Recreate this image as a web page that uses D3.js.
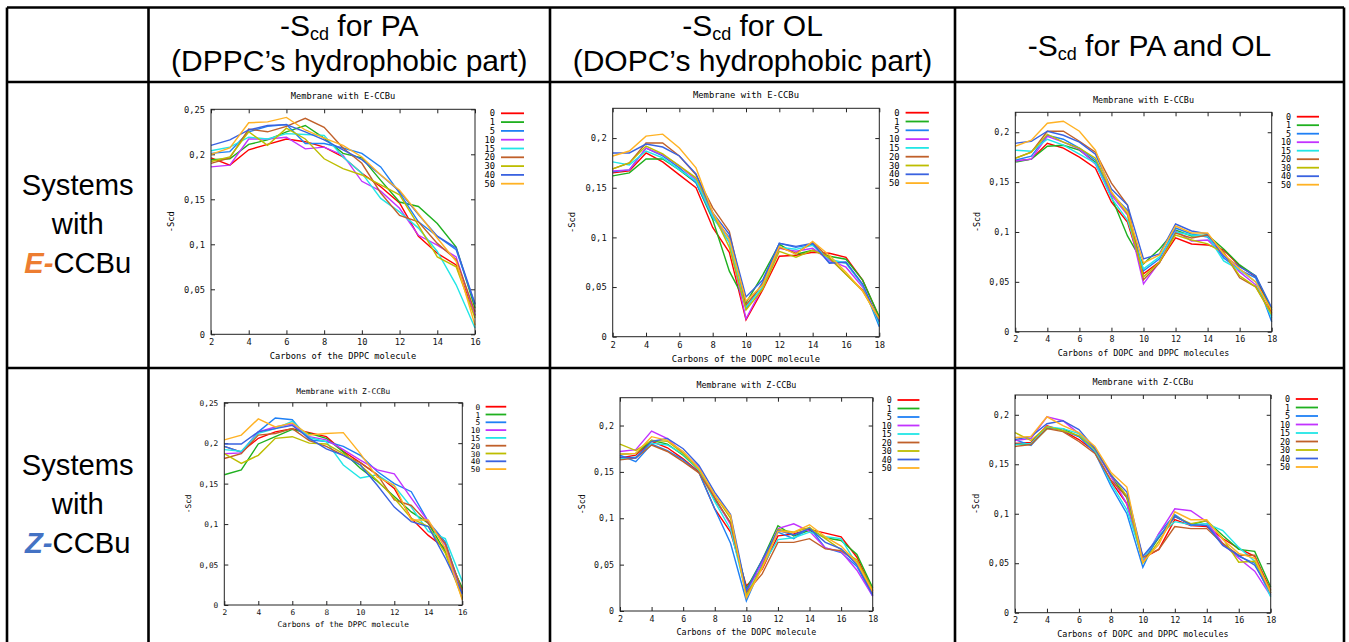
<!DOCTYPE html>
<html>
<head>
<meta charset="utf-8">
<script src="https://cdn.jsdelivr.net/npm/d3@7"></script>
<style>
  body { margin: 0; background: #fff; }
  svg { display: block; }
</style>
</head>
<body>
<script>
// carbon numbers on the x axis
var carbonsPA = [2, 3, 4, 5, 6, 7, 8, 9, 10, 11, 12, 13, 14, 15, 16];
var carbonsOL = [2, 3, 4, 5, 6, 7, 8, 9, 10, 11, 12, 13, 14, 15, 16, 17, 18];
var xTicksPA = [2, 4, 6, 8, 10, 12, 14, 16];
var xTicksOL = [2, 4, 6, 8, 10, 12, 14, 16, 18];
var yTicks25 = [0, 0.05, 0.1, 0.15, 0.2, 0.25];
var yTicks20 = [0, 0.05, 0.1, 0.15, 0.2];

// legend entries (CCBu amount)
var series = ['0', '1', '5', '10', '15', '20', '30', '40', '50'];
var colors = ['#ff0000', '#1fb01f', '#1f80f5', '#c233ff', '#22e6e6', '#c0602a', '#bdbd00', '#3a62e0', '#ffb224'];

// -Scd, E-CCBu, PA chains (DPPC)
var ePA = [
  [0.196, 0.188, 0.205, 0.211, 0.217, 0.214, 0.208, 0.197, 0.179, 0.164, 0.146, 0.109, 0.090, 0.077, 0.021],
  [0.194, 0.195, 0.211, 0.216, 0.225, 0.232, 0.218, 0.201, 0.196, 0.171, 0.147, 0.142, 0.123, 0.097, 0.029],
  [0.201, 0.203, 0.225, 0.231, 0.233, 0.212, 0.212, 0.207, 0.201, 0.186, 0.157, 0.125, 0.109, 0.094, 0.033],
  [0.186, 0.188, 0.217, 0.217, 0.219, 0.206, 0.208, 0.199, 0.170, 0.159, 0.140, 0.110, 0.099, 0.086, 0.021],
  [0.204, 0.208, 0.219, 0.217, 0.223, 0.222, 0.221, 0.197, 0.179, 0.151, 0.136, 0.118, 0.092, 0.055, 0.007],
  [0.190, 0.196, 0.228, 0.225, 0.231, 0.240, 0.230, 0.207, 0.190, 0.157, 0.132, 0.125, 0.101, 0.083, 0.025],
  [0.192, 0.197, 0.225, 0.210, 0.229, 0.217, 0.195, 0.184, 0.177, 0.166, 0.155, 0.121, 0.086, 0.075, 0.018],
  [0.210, 0.216, 0.227, 0.232, 0.233, 0.225, 0.216, 0.205, 0.194, 0.177, 0.159, 0.133, 0.109, 0.096, 0.034],
  [0.200, 0.207, 0.235, 0.236, 0.241, 0.227, 0.218, 0.210, 0.197, 0.177, 0.160, 0.134, 0.107, 0.081, 0.010]
];
// -Scd, E-CCBu, OL chains (DOPC)
var eOL = [
  [0.165, 0.167, 0.185, 0.176, 0.163, 0.150, 0.110, 0.085, 0.017, 0.047, 0.081, 0.082, 0.085, 0.084, 0.080, 0.057, 0.019],
  [0.162, 0.165, 0.179, 0.179, 0.168, 0.155, 0.118, 0.066, 0.034, 0.062, 0.093, 0.083, 0.087, 0.081, 0.078, 0.057, 0.020],
  [0.166, 0.168, 0.190, 0.182, 0.170, 0.155, 0.120, 0.100, 0.028, 0.055, 0.094, 0.090, 0.093, 0.075, 0.075, 0.052, 0.010],
  [0.167, 0.168, 0.190, 0.183, 0.172, 0.158, 0.123, 0.095, 0.018, 0.050, 0.089, 0.086, 0.089, 0.077, 0.070, 0.050, 0.015],
  [0.176, 0.173, 0.187, 0.180, 0.168, 0.157, 0.121, 0.095, 0.030, 0.050, 0.090, 0.088, 0.092, 0.078, 0.074, 0.052, 0.013],
  [0.169, 0.175, 0.195, 0.195, 0.182, 0.163, 0.130, 0.106, 0.032, 0.053, 0.090, 0.084, 0.095, 0.079, 0.063, 0.047, 0.018],
  [0.169, 0.175, 0.192, 0.184, 0.172, 0.160, 0.125, 0.090, 0.027, 0.048, 0.086, 0.080, 0.087, 0.080, 0.063, 0.046, 0.017],
  [0.185, 0.185, 0.194, 0.191, 0.182, 0.164, 0.125, 0.103, 0.040, 0.057, 0.094, 0.091, 0.094, 0.074, 0.075, 0.053, 0.015],
  [0.182, 0.187, 0.202, 0.204, 0.190, 0.170, 0.125, 0.098, 0.036, 0.052, 0.091, 0.083, 0.096, 0.082, 0.065, 0.046, 0.018]
];
// -Scd, E-CCBu, PA and OL together
var eAll = [
  [0.171, 0.173, 0.189, 0.184, 0.175, 0.164, 0.130, 0.110, 0.058, 0.070, 0.094, 0.088, 0.087, 0.082, 0.066, 0.055, 0.019],
  [0.170, 0.173, 0.186, 0.187, 0.182, 0.170, 0.135, 0.096, 0.068, 0.083, 0.102, 0.096, 0.097, 0.083, 0.067, 0.056, 0.022],
  [0.172, 0.176, 0.197, 0.193, 0.184, 0.172, 0.138, 0.122, 0.061, 0.073, 0.104, 0.098, 0.095, 0.074, 0.062, 0.054, 0.010],
  [0.171, 0.173, 0.196, 0.190, 0.183, 0.168, 0.137, 0.117, 0.048, 0.070, 0.101, 0.091, 0.092, 0.077, 0.060, 0.047, 0.016],
  [0.182, 0.181, 0.193, 0.187, 0.178, 0.169, 0.134, 0.112, 0.063, 0.075, 0.100, 0.097, 0.096, 0.071, 0.062, 0.050, 0.014],
  [0.174, 0.180, 0.201, 0.201, 0.191, 0.180, 0.149, 0.127, 0.052, 0.069, 0.099, 0.094, 0.097, 0.080, 0.054, 0.045, 0.018],
  [0.174, 0.180, 0.198, 0.190, 0.184, 0.174, 0.140, 0.118, 0.055, 0.070, 0.097, 0.092, 0.088, 0.079, 0.056, 0.045, 0.017],
  [0.189, 0.191, 0.201, 0.197, 0.190, 0.178, 0.143, 0.127, 0.073, 0.078, 0.108, 0.101, 0.098, 0.076, 0.065, 0.056, 0.024],
  [0.186, 0.192, 0.209, 0.211, 0.201, 0.182, 0.140, 0.120, 0.069, 0.077, 0.106, 0.099, 0.099, 0.078, 0.063, 0.050, 0.021]
];
// -Scd, Z-CCBu, PA chains (DPPC)
var zPA = [
  [0.196, 0.189, 0.206, 0.214, 0.218, 0.213, 0.208, 0.190, 0.176, 0.161, 0.144, 0.107, 0.086, 0.070, 0.019],
  [0.161, 0.167, 0.199, 0.208, 0.217, 0.212, 0.206, 0.189, 0.169, 0.153, 0.134, 0.115, 0.101, 0.066, 0.021],
  [0.196, 0.189, 0.214, 0.231, 0.229, 0.204, 0.202, 0.196, 0.185, 0.165, 0.150, 0.140, 0.103, 0.078, 0.014],
  [0.187, 0.188, 0.214, 0.220, 0.224, 0.208, 0.204, 0.192, 0.179, 0.167, 0.162, 0.132, 0.103, 0.074, 0.008],
  [0.192, 0.190, 0.212, 0.218, 0.227, 0.207, 0.202, 0.173, 0.157, 0.161, 0.147, 0.121, 0.091, 0.082, 0.029],
  [0.181, 0.187, 0.210, 0.212, 0.218, 0.203, 0.196, 0.185, 0.176, 0.161, 0.130, 0.123, 0.101, 0.076, 0.016],
  [0.187, 0.175, 0.185, 0.206, 0.208, 0.200, 0.199, 0.187, 0.173, 0.154, 0.132, 0.107, 0.097, 0.064, 0.008],
  [0.199, 0.199, 0.214, 0.218, 0.222, 0.206, 0.193, 0.185, 0.173, 0.148, 0.121, 0.103, 0.097, 0.058, 0.014],
  [0.204, 0.210, 0.230, 0.220, 0.225, 0.210, 0.212, 0.213, 0.187, 0.158, 0.148, 0.105, 0.105, 0.070, 0.006]
];
// -Scd, Z-CCBu, OL chains (DOPC)
var zOL = [
  [0.165, 0.168, 0.183, 0.176, 0.164, 0.150, 0.110, 0.085, 0.027, 0.045, 0.081, 0.083, 0.088, 0.084, 0.080, 0.058, 0.022],
  [0.169, 0.170, 0.184, 0.180, 0.168, 0.152, 0.120, 0.095, 0.024, 0.055, 0.092, 0.081, 0.087, 0.079, 0.076, 0.061, 0.025],
  [0.168, 0.161, 0.180, 0.173, 0.163, 0.149, 0.110, 0.073, 0.011, 0.050, 0.085, 0.078, 0.090, 0.068, 0.063, 0.048, 0.016],
  [0.172, 0.174, 0.194, 0.186, 0.170, 0.155, 0.122, 0.093, 0.020, 0.052, 0.089, 0.094, 0.086, 0.068, 0.064, 0.044, 0.016],
  [0.164, 0.166, 0.181, 0.179, 0.169, 0.152, 0.118, 0.088, 0.018, 0.048, 0.077, 0.079, 0.085, 0.080, 0.078, 0.050, 0.018],
  [0.163, 0.165, 0.179, 0.172, 0.161, 0.149, 0.122, 0.095, 0.020, 0.040, 0.074, 0.074, 0.078, 0.067, 0.065, 0.053, 0.019],
  [0.180, 0.173, 0.184, 0.183, 0.170, 0.153, 0.125, 0.100, 0.016, 0.048, 0.088, 0.085, 0.090, 0.078, 0.066, 0.055, 0.022],
  [0.166, 0.165, 0.183, 0.186, 0.175, 0.157, 0.128, 0.104, 0.022, 0.055, 0.087, 0.082, 0.089, 0.074, 0.067, 0.050, 0.017],
  [0.169, 0.170, 0.188, 0.184, 0.172, 0.154, 0.125, 0.103, 0.014, 0.046, 0.086, 0.085, 0.093, 0.080, 0.070, 0.052, 0.021]
];
// -Scd, Z-CCBu, PA and OL together
var zAll = [
  [0.171, 0.172, 0.189, 0.184, 0.175, 0.163, 0.133, 0.110, 0.055, 0.064, 0.094, 0.088, 0.087, 0.075, 0.065, 0.057, 0.023],
  [0.170, 0.170, 0.186, 0.186, 0.178, 0.166, 0.138, 0.116, 0.052, 0.076, 0.098, 0.089, 0.093, 0.078, 0.064, 0.062, 0.026],
  [0.175, 0.169, 0.187, 0.184, 0.178, 0.162, 0.128, 0.100, 0.046, 0.080, 0.099, 0.088, 0.090, 0.069, 0.057, 0.050, 0.018],
  [0.174, 0.176, 0.198, 0.194, 0.181, 0.165, 0.138, 0.110, 0.052, 0.080, 0.105, 0.103, 0.092, 0.070, 0.055, 0.042, 0.017],
  [0.170, 0.171, 0.188, 0.186, 0.181, 0.164, 0.131, 0.104, 0.054, 0.078, 0.092, 0.089, 0.090, 0.083, 0.066, 0.052, 0.016],
  [0.168, 0.170, 0.186, 0.183, 0.173, 0.161, 0.134, 0.117, 0.056, 0.064, 0.087, 0.085, 0.085, 0.070, 0.058, 0.058, 0.020],
  [0.182, 0.174, 0.188, 0.184, 0.179, 0.165, 0.140, 0.118, 0.050, 0.072, 0.097, 0.090, 0.093, 0.075, 0.051, 0.052, 0.022],
  [0.175, 0.178, 0.191, 0.194, 0.185, 0.166, 0.139, 0.122, 0.057, 0.076, 0.097, 0.089, 0.088, 0.068, 0.058, 0.048, 0.020],
  [0.177, 0.178, 0.198, 0.189, 0.182, 0.168, 0.142, 0.127, 0.051, 0.069, 0.102, 0.094, 0.094, 0.074, 0.060, 0.055, 0.020]
];

var W = 1349, H = 642;
var svg = d3.select('body').append('svg').attr('width', W).attr('height', H);

// ---- table grid ----
var colX = [7, 148.5, 550, 955, 1344];
var rowY = [7.5, 82, 368, 650];
var grid = svg.append('g').attr('stroke', '#000').attr('stroke-width', 2.6);
colX.forEach(function(x) {
  grid.append('line').attr('x1', x).attr('x2', x).attr('y1', rowY[0]).attr('y2', rowY[3]);
});
rowY.forEach(function(y) {
  grid.append('line').attr('x1', colX[0]).attr('x2', colX[4]).attr('y1', y).attr('y2', y);
});

var bigFont = 'Liberation Sans, Arial, sans-serif';
var headSize = 30;

function scdLabel(g, x, y, rest) {
  var t = g.append('text').attr('x', x).attr('y', y).attr('text-anchor', 'middle')
    .attr('font-family', bigFont).attr('font-size', headSize).attr('fill', '#000');
  t.append('tspan').text('-S');
  t.append('tspan').attr('font-size', 18).attr('dy', 4).text('cd');
  t.append('tspan').attr('dy', -4).text(rest);
}
var head = svg.append('g');
scdLabel(head, (colX[1] + colX[2]) / 2, 36, ' for PA');
head.append('text').attr('x', (colX[1] + colX[2]) / 2).attr('y', 71).attr('text-anchor', 'middle')
  .attr('font-family', bigFont).attr('font-size', headSize).text('(DPPC\u2019s hydrophobic part)');
scdLabel(head, (colX[2] + colX[3]) / 2, 36, ' for OL');
head.append('text').attr('x', (colX[2] + colX[3]) / 2).attr('y', 71).attr('text-anchor', 'middle')
  .attr('font-family', bigFont).attr('font-size', headSize).text('(DOPC\u2019s hydrophobic part)');
scdLabel(head, (colX[3] + colX[4]) / 2, 56, ' for PA and OL');

function rowLabel(y0, iso, isoColor) {
  var cx = (colX[0] + colX[1]) / 2;
  var g = svg.append('g').attr('font-family', bigFont).attr('font-size', 29.2).attr('text-anchor', 'middle');
  g.append('text').attr('x', cx).attr('y', y0).text('Systems');
  g.append('text').attr('x', cx).attr('y', y0 + 39).text('with');
  var t = g.append('text').attr('x', cx).attr('y', y0 + 78);
  t.append('tspan').attr('fill', isoColor).attr('font-weight', 'bold').attr('font-style', 'italic').text(iso + '-');
  t.append('tspan').text('CCBu');
}
rowLabel(195, 'E', '#ed7d31');
rowLabel(475, 'Z', '#4472c4');

// ---- gnuplot-like panels ----
var fmt = function(d) { return d3.format('.2~f')(d).replace('.', ','); };

function panel(box, xs, rows, xmax, ymax, xt, yt, title, xlabel) {
  var fs = box.fs, k = fs / 8.7;
  var x = d3.scaleLinear().domain([2, xmax]).range([box.l, box.r]);
  var y = d3.scaleLinear().domain([0, ymax]).range([box.b, box.t]);
  var g = svg.append('g').attr('font-family', 'DejaVu Sans Mono, monospace').attr('font-size', fs);

  var axL = g.append('g').attr('transform', 'translate(' + box.l + ',0)')
    .call(d3.axisLeft(y).tickValues(yt).tickFormat(fmt).tickSize(-4).tickSizeOuter(0).tickPadding(6));
  var axR = g.append('g').attr('transform', 'translate(' + box.r + ',0)')
    .call(d3.axisRight(y).tickValues(yt).tickFormat('').tickSize(-4).tickSizeOuter(0));
  var axB = g.append('g').attr('transform', 'translate(0,' + box.b + ')')
    .call(d3.axisBottom(x).tickValues(xt).tickFormat(d3.format('d')).tickSize(-4).tickSizeOuter(0).tickPadding(5 * k));
  var axT = g.append('g').attr('transform', 'translate(0,' + box.t + ')')
    .call(d3.axisTop(x).tickValues(xt).tickFormat('').tickSize(-4).tickSizeOuter(0));
  [axL, axR, axB, axT].forEach(function(a) {
    a.select('.domain').remove();
    a.attr('font-family', null).attr('font-size', null);
    a.selectAll('line').attr('stroke', '#222');
    a.selectAll('text').attr('fill', '#111');
  });

  var line = d3.line().x(function(d) { return x(d[0]); }).y(function(d) { return y(d[1]); });
  rows.forEach(function(vals, i) {
    g.append('path').datum(xs.map(function(c, j) { return [c, vals[j]]; }))
      .attr('d', line).attr('fill', 'none').attr('stroke', colors[i]).attr('stroke-width', 1.4);
  });

  g.append('rect').attr('x', box.l).attr('y', box.t).attr('width', box.r - box.l).attr('height', box.b - box.t)
    .attr('fill', 'none').attr('stroke', '#222').attr('stroke-width', 1);

  g.append('text').attr('x', (box.l + box.r) / 2).attr('y', box.t - 10 * k).attr('text-anchor', 'middle').text(title);
  g.append('text').attr('x', (box.l + box.r) / 2).attr('y', box.b + 25 * k).attr('text-anchor', 'middle').text(xlabel);
  g.append('text').attr('transform', 'translate(' + (box.l - 37 * k) + ',' + ((box.t + box.b) / 2) + ') rotate(-90)')
    .attr('text-anchor', 'middle').text('-Scd');

  var leg = g.append('g');
  series.forEach(function(s, i) {
    var yy = box.t + box.lt + i * box.sp;
    leg.append('text').attr('x', box.r + 20 * k).attr('y', yy + 3).attr('text-anchor', 'end').text(s);
    leg.append('line').attr('x1', box.r + 26 * k).attr('x2', box.r + 49 * k).attr('y1', yy).attr('y2', yy)
      .attr('stroke', colors[i]).attr('stroke-width', 1.8);
  });
}

panel({l: 211, t: 109.3, r: 475, b: 334.3, fs: 8.7, lt: 4, sp: 8.8}, carbonsPA, ePA, 16, 0.25, xTicksPA, yTicks25,
  'Membrane with E-CCBu', 'Carbons of the DPPC molecule');
panel({l: 612.7, t: 108.3, r: 879.3, b: 336.7, fs: 8.8, lt: 4.4, sp: 8.8}, carbonsOL, eOL, 18, 0.23, xTicksOL, yTicks20,
  'Membrane with E-CCBu', 'Carbons of the DOPC molecule');
panel({l: 1015.3, t: 112.3, r: 1271.7, b: 331.7, fs: 8.4, lt: 4.4, sp: 8.5}, carbonsOL, eAll, 18, 0.22, xTicksOL, yTicks20,
  'Membrane with E-CCBu', 'Carbons of DOPC and DPPC molecules');
panel({l: 224.3, t: 402.7, r: 462.3, b: 605, fs: 7.8, lt: 4, sp: 7.8}, carbonsPA, zPA, 16, 0.25, xTicksPA, yTicks25,
  'Membrane with Z-CCBu', 'Carbons of the DPPC molecule');
panel({l: 620, t: 397.7, r: 872.7, b: 611, fs: 8.3, lt: 2.3, sp: 8.5}, carbonsOL, zOL, 18, 0.23, xTicksOL, yTicks20,
  'Membrane with Z-CCBu', 'Carbons of the DOPC molecule');
panel({l: 1015, t: 395, r: 1270.7, b: 612.7, fs: 8.4, lt: 4, sp: 8.5}, carbonsOL, zAll, 18, 0.22, xTicksOL, yTicks20,
  'Membrane with Z-CCBu', 'Carbons of DOPC and DPPC molecules');
</script>
</body>
</html>
